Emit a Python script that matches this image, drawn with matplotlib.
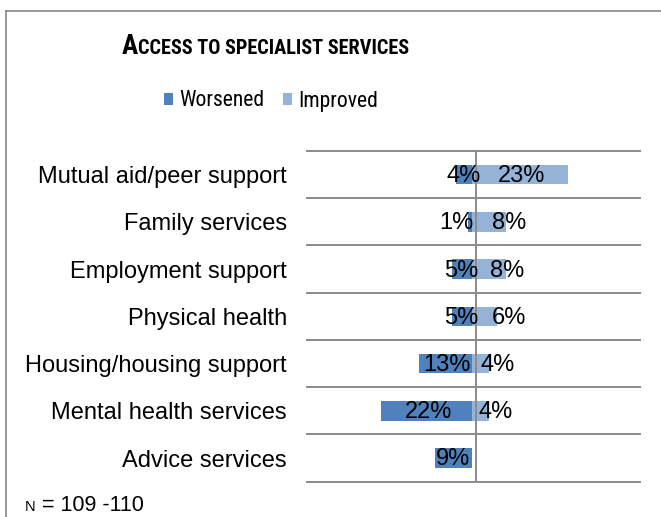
import matplotlib
matplotlib.use("Agg")
import matplotlib.pyplot as plt
from matplotlib.patches import Patch
from matplotlib.lines import Line2D
from matplotlib import font_manager

# ---- data -------------------------------------------------------------
categories = [
    "Mutual aid/peer support",
    "Family services",
    "Employment support",
    "Physical health",
    "Housing/housing support",
    "Mental health services",
    "Advice services",
]
worsened = [4, 1, 5, 5, 13, 22, 9]      # % of respondents
improved = [23, 8, 8, 6, 4, 4, None]    # % of respondents
series_names = ["Worsened", "Improved"]
title_first = "A"
title_rest = "CCESS TO SPECIALIST SERVICES"
note_n = "N"
note_rest = " = 109 -110"

# label nudges (percentage points, relative to the bar centre)
worsened_label_shift = [-0.2, -3.5, -0.15, -0.15, 0.4, 0.3, -0.2]
improved_label_shift = [0.4, 4.8, 4.3, 5.8, 4.0, 3.5, 0.0]

# ---- style ------------------------------------------------------------
installed = {f.name for f in font_manager.fontManager.ttflist}
SANS = "Liberation Sans" if "Liberation Sans" in installed else "DejaVu Sans"
NARROW = SANS
for cand in ("Liberation Sans Narrow", "Arial Narrow", "Roboto Condensed", "PT Sans Narrow"):
    if cand in installed:
        NARROW = cand
        break
plt.rcParams["font.family"] = [SANS, "DejaVu Sans"]

DARK = "#4F81BD"
LIGHT = "#95B3D7"
GRID = "#8A8A8A"

W, H = 661, 517
fig = plt.figure(figsize=(W / 100, H / 100), dpi=100)
ax = fig.add_axes([307 / W, 1 - 481.7 / H, 333 / W, (481.7 - 151) / H])

n = len(categories)
ypos = list(range(n))
bar_h = 0.41

w_vals = [-v / 100 for v in worsened]
i_vals = [(v or 0) / 100 for v in improved]
ax.barh(ypos, w_vals, height=bar_h, color=DARK, zorder=2)
ax.barh(ypos, i_vals, height=bar_h, color=LIGHT, zorder=2)

# value labels
for y, v, s in zip(ypos, worsened, worsened_label_shift):
    ax.text((-v / 2 + s) / 100, y + 0.03, f"{v}%", ha="center", va="center",
            fontsize=17, color="black", zorder=4)
for y, v, s in zip(ypos, improved, improved_label_shift):
    if v is None:
        continue
    ax.text((v / 2 + s) / 100, y + 0.03, f"{v}%", ha="center", va="center",
            fontsize=17, color="black", zorder=4)

ax.set_xlim(-0.40, 0.405)
ax.set_ylim(n - 0.5, -0.5)

# category separators and the vertical axis line
for b in range(n + 1):
    ax.axhline(b - 0.5, color=GRID, lw=1.4, zorder=1, clip_on=False)
ax.axvline(0.0075, color=GRID, lw=1.4, zorder=3)

for sp in ax.spines.values():
    sp.set_visible(False)
ax.set_xticks([])
ax.set_yticks(ypos)
ax.set_yticklabels(categories, fontsize=17)
ax.tick_params(axis="y", length=0, pad=14.4)

# legend
handles = [Patch(facecolor=DARK, edgecolor="none"),
           Patch(facecolor=LIGHT, edgecolor="none")]
fig.legend(handles, series_names, loc="center", bbox_to_anchor=(271 / W, 1 - 101 / H),
           ncol=2, frameon=False, prop={"family": NARROW, "size": 15.6},
           handlelength=0.42, handleheight=0.5, handletextpad=0.3,
           columnspacing=0.85, borderpad=0, borderaxespad=0)

# title in small caps: a large initial followed by smaller capitals
renderer = fig.canvas.get_renderer()
t1 = fig.text(122 / W, 1 - 54 / H, title_first, fontsize=19.5, weight="bold",
              family=NARROW, va="baseline", ha="left")
x1 = t1.get_window_extent(renderer).x1
fig.text(x1 / W, 1 - 54 / H, title_rest, fontsize=14.6, weight="bold",
         family=NARROW, va="baseline", ha="left")

# sample size note
n1 = fig.text(25 / W, 1 - 511 / H, note_n, fontsize=10.5, va="baseline", ha="left")
xn = n1.get_window_extent(renderer).x1
fig.text(xn / W, 1 - 511 / H, note_rest, fontsize=15.5, va="baseline", ha="left")

# outer chart frame (top and left edges)
fig.add_artist(Line2D([6 / W, 6 / W], [0, 1 - 11 / H], transform=fig.transFigure,
                      color="#878787", lw=1.2))
fig.add_artist(Line2D([6 / W, 1], [1 - 11 / H, 1 - 11 / H], transform=fig.transFigure,
                      color="#878787", lw=1.2))

fig.savefig("out.png", dpi=100)
